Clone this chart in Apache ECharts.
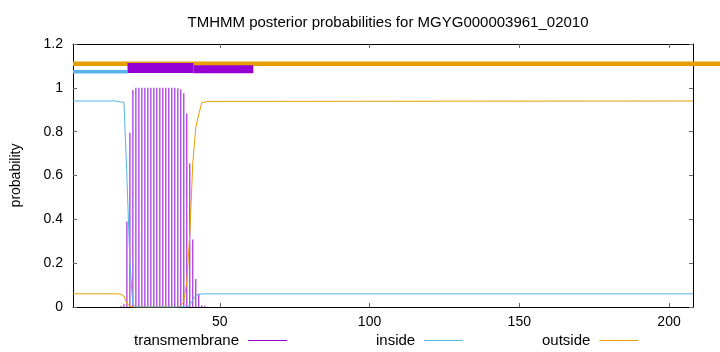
<!DOCTYPE html>
<html>
<head>
<meta charset="utf-8">
<script src="https://cdn.jsdelivr.net/npm/echarts@6/dist/echarts.min.js"></script>
<style>html,body{margin:0;padding:0;background:#fff}#c{width:720px;height:352px}</style>
</head>
<body>
<div id="c"></div>
<script>
const titleText = 'TMHMM posterior probabilities for MGYG000003961_02010';
const xTicks = [50, 100, 150, 200];

const tmResidues = [17,18,19,20,21,22,23,24,25,26,27,28,29,30,31,32,33,34,35,36,37,38,39,40,41,42,43,44,45];
const tmProb = [0.005,0.012,0.39,0.795,0.99,1,1,1,1,1,1,1,1,1,1,1,1,1,1,0.998,0.993,0.975,0.883,0.655,0.308,0.128,0.061,0.008,0.005];

const inResidues = [1,15,16,17,18,19,20,21,22,39,40,41,42,43,44,45,208];
const inProb = [0.94,0.94,0.938,0.935,0.935,0.595,0.2,0.01,0,0,0.01,0.032,0.052,0.058,0.059,0.06,0.06];

const outResidues = [1,16,17,18,19,20,21,36,37,38,39,40,41,42,43,44,45,46,208];
const outProb = [0.06,0.06,0.058,0.05,0.015,0.003,0,0,0.007,0.025,0.117,0.335,0.66,0.82,0.88,0.933,0.935,0.938,0.94];

// predicted topology bars above the plot: [start, end, centre y]
const topBars = [
  {name: 'outside', start: 1, end: 220, y: 1.11},
  {name: 'inside', start: 1, end: 19.2, y: 1.073},
  {name: 'transmembrane', start: 19.2, end: 41.2, y: 1.09},
  {name: 'transmembrane', start: 41.2, end: 61.2, y: 1.085}
];

const C_TM = '#9400d3', C_IN = '#56b4e9', C_OUT = '#e69f00';
const barColor = {outside: C_OUT, inside: C_IN, transmembrane: C_TM};
const barThick = [4.5, 3.5, 10, 8];
const FONT = 'Liberation Sans, Arial, sans-serif';

const pair = (xs, ys) => xs.map((x, i) => [x, ys[i]]);

const chart = echarts.init(document.getElementById('c'), null, {renderer: 'canvas'});
const tickStyle = {show: true, inside: true, length: 4, lineStyle: {color: '#666', width: 1}};
const legendText = () => ({fontFamily: FONT, fontSize: 15, color: '#000', padding: [0, 4, 0, 0]});
const legendItem = (name, color, left) => ({
  data: [{name: name, icon: 'rect', itemStyle: {color: color}}],
  left: left, top: 328, align: 'right', itemWidth: 39, itemHeight: 1,
  textStyle: legendText(), selectedMode: false
});

chart.setOption({
  animation: false,
  backgroundColor: '#fff',
  title: {
    text: titleText, left: 383, top: 10, textAlign: 'center',
    textStyle: {fontFamily: FONT, fontSize: 15, fontWeight: 'normal', color: '#000'}
  },
  grid: {left: 73, right: 27, top: 44, bottom: 45},
  legend: [
    legendItem('transmembrane', C_TM, 129),
    legendItem('inside', C_IN, 371),
    legendItem('outside', C_OUT, 537)
  ],
  xAxis: [
    {type: 'value', min: 1, max: 208, position: 'bottom',
     axisLine: {show: true, onZero: false, lineStyle: {color: '#000', width: 1}},
     axisTick: Object.assign({customValues: xTicks}, tickStyle),
     axisLabel: {customValues: xTicks, color: '#000', fontFamily: FONT, fontSize: 14, margin: 8},
     splitLine: {show: false}},
    {type: 'value', min: 1, max: 208, position: 'top',
     axisLine: {show: true, onZero: false, lineStyle: {color: '#000', width: 1}},
     axisTick: Object.assign({customValues: xTicks}, tickStyle),
     axisLabel: {show: false}, splitLine: {show: false}}
  ],
  yAxis: [
    {type: 'value', min: 0, max: 1.2, interval: 0.2, position: 'left',
     name: 'probability', nameLocation: 'middle', nameGap: 50, nameRotate: 90,
     nameTextStyle: {fontFamily: FONT, fontSize: 14, color: '#000'},
     axisLine: {show: true, onZero: false, lineStyle: {color: '#000', width: 1}},
     axisTick: tickStyle,
     axisLabel: {color: '#000', fontFamily: FONT, fontSize: 14, margin: 10},
     splitLine: {show: false}},
    {type: 'value', min: 0, max: 1.2, interval: 0.2, position: 'right',
     axisLine: {show: true, onZero: false, lineStyle: {color: '#000', width: 1}},
     axisTick: tickStyle, axisLabel: {show: false}, splitLine: {show: false}}
  ],
  series: [
    {name: 'outside', type: 'line', data: pair(outResidues, outProb), showSymbol: false, symbol: 'none',
     lineStyle: {color: C_OUT, width: 1}, itemStyle: {color: C_OUT}, z: 3},
    {name: 'inside', type: 'line', data: pair(inResidues, inProb), showSymbol: false, symbol: 'none',
     lineStyle: {color: C_IN, width: 1}, itemStyle: {color: C_IN}, z: 3},
    {name: 'transmembrane', type: 'bar', data: pair(tmResidues, tmProb), barWidth: 1,
     itemStyle: {color: C_TM}, z: 2},
    {name: 'topology', type: 'custom', clip: false, z: 5,
     itemStyle: {color: C_TM},
     data: topBars.map(b => [b.start, b.end, b.y]),
     renderItem: function (params, api) {
       const i = params.dataIndex;
       const p0 = api.coord([api.value(0), api.value(2)]);
       const p1 = api.coord([api.value(1), api.value(2)]);
       const h = barThick[i];
       return {
         type: 'rect',
         shape: {x: p0[0], y: p0[1] - h / 2, width: p1[0] - p0[0], height: h},
         style: {fill: barColor[topBars[i].name]}
       };
     }}
  ]
});
</script>
</body>
</html>
